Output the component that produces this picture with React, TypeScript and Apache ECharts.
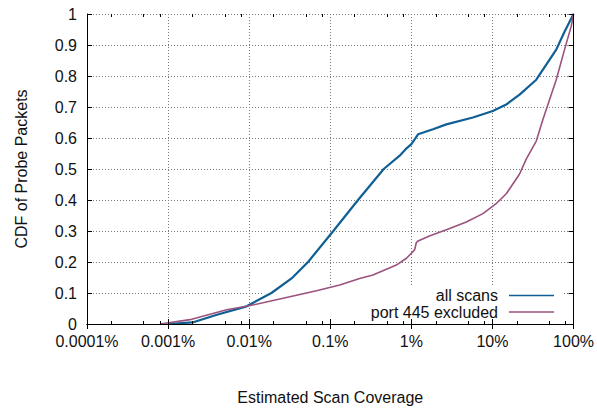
import React, { useEffect, useRef } from "react";
import * as echarts from "echarts";

// Estimated scan coverage (%) and CDF values
const allScansX = [0.001, 0.002, 0.004, 0.0093, 0.0188, 0.0333, 0.0532, 0.109, 0.22, 0.456, 0.718, 0.85, 1.0, 1.21, 1.85, 2.7, 5.74, 10.1, 14.8, 21.6, 34.7, 61.2, 77.4, 100];
const allScansY = [0, 0.005, 0.03, 0.057, 0.1, 0.147, 0.2, 0.3, 0.4, 0.5, 0.543, 0.564, 0.58, 0.612, 0.628, 0.644, 0.666, 0.687, 0.708, 0.74, 0.788, 0.885, 0.943, 1.0];

const excl445X = [0.0008, 0.00186, 0.00526, 0.0093, 0.0262, 0.0676, 0.131, 0.23, 0.336, 0.653, 0.869, 1.0, 1.1, 1.15, 1.21, 1.67, 2.97, 4.76, 7.63, 11.1, 14.8, 21.6, 26.1, 34.7, 41.9, 46.1, 61.2, 77.4, 93.6, 100];
const excl445Y = [0, 0.014, 0.046, 0.057, 0.083, 0.107, 0.126, 0.147, 0.158, 0.19, 0.212, 0.228, 0.24, 0.262, 0.268, 0.284, 0.308, 0.329, 0.356, 0.388, 0.42, 0.484, 0.532, 0.59, 0.66, 0.692, 0.788, 0.885, 0.96, 1.0];

const seriesNames = ["all scans", "port 445 excluded"];
const seriesColors = ["#0f5f95", "#9b527d"];

const xMin = 0.0001;
const xMax = 100;
const minorTickValues = [
  0.0002, 0.0005, 0.0008,
  0.002, 0.005, 0.008,
  0.02, 0.05, 0.08,
  0.2, 0.5, 0.8,
  2, 5, 8,
  20, 50, 80,
];

const xTitle = "Estimated Scan Coverage";
const yTitle = "CDF of Probe Packets";

const FONT = "'Liberation Sans', Arial, Helvetica, sans-serif";

function fmtPct(v: number) {
  return String(Number(v.toPrecision(6))) + "%";
}

export default function App() {
  const ref = useRef<HTMLDivElement>(null);

  useEffect(() => {
    document.body.style.margin = "0";
    const chart = echarts.init(ref.current!, null, { renderer: "svg" });

    const gridLineStyle = { color: "#7a7a7a", type: [1, 2] as any, width: 1 };
    const baseX = { type: "log" as const, logBase: 10, min: xMin, max: xMax, gridIndex: 0 };

    const toPairs = (xs: number[], ys: number[]) => xs.map((x, i) => [x, ys[i]]);

    chart.setOption({
      animation: false,
      backgroundColor: "#ffffff",
      textStyle: { fontFamily: FONT },
      grid: { left: 87, right: 23, top: 14, bottom: 84 },
      xAxis: [
        {
          ...baseX,
          position: "bottom",
          z: 3,
          name: xTitle,
          nameLocation: "middle",
          nameGap: 65,
          nameTextStyle: { color: "#111", fontSize: 16, fontFamily: FONT },
          axisLine: { show: true, lineStyle: { color: "#000", width: 1 } },
          axisTick: { show: true, inside: true, length: 5, lineStyle: { color: "#000" } },
          axisLabel: { show: true, color: "#111", fontSize: 16, fontFamily: FONT, margin: 9, formatter: fmtPct },
          splitLine: { show: false },
        },
        {
          ...baseX,
          position: "top",
          z: 3,
          axisLine: { show: true, lineStyle: { color: "#000", width: 1 } },
          axisTick: { show: true, inside: true, length: 5, lineStyle: { color: "#000" } },
          axisLabel: { show: false },
          splitLine: { show: false },
        },
        {
          ...baseX,
          position: "bottom",
          z: 0,
          axisLine: { show: false },
          axisTick: { show: false },
          axisLabel: { show: false },
          splitLine: { show: true, lineStyle: gridLineStyle },
        },
        {
          ...baseX,
          position: "bottom",
          z: 3,
          axisLine: { show: false },
          axisTick: { show: true, inside: true, length: 3, customValues: minorTickValues, lineStyle: { color: "#000" } },
          axisLabel: { show: false },
          splitLine: { show: false },
        },
        {
          ...baseX,
          position: "top",
          z: 3,
          axisLine: { show: false },
          axisTick: { show: true, inside: true, length: 3, customValues: minorTickValues, lineStyle: { color: "#000" } },
          axisLabel: { show: false },
          splitLine: { show: false },
        },
      ],
      yAxis: [
        {
          type: "value",
          min: 0,
          max: 1,
          interval: 0.1,
          position: "left",
          z: 3,
          name: yTitle,
          nameLocation: "middle",
          nameGap: 58,
          nameTextStyle: { color: "#111", fontSize: 16, fontFamily: FONT },
          axisLine: { show: true, lineStyle: { color: "#000", width: 1 } },
          axisTick: { show: true, inside: true, length: 5, lineStyle: { color: "#000" } },
          axisLabel: {
            show: true,
            color: "#111",
            fontSize: 16,
            fontFamily: FONT,
            margin: 10,
            formatter: (v: number) => String(Math.round(v * 10) / 10),
          },
          splitLine: { show: false },
        },
        {
          type: "value",
          min: 0,
          max: 1,
          interval: 0.1,
          position: "right",
          z: 3,
          axisLine: { show: true, lineStyle: { color: "#000", width: 1 } },
          axisTick: { show: true, inside: true, length: 5, lineStyle: { color: "#000" } },
          axisLabel: { show: false },
          splitLine: { show: false },
        },
        {
          type: "value",
          min: 0,
          max: 1,
          interval: 0.1,
          position: "left",
          z: 0,
          axisLine: { show: false },
          axisTick: { show: false },
          axisLabel: { show: false },
          splitLine: { show: true, lineStyle: gridLineStyle },
        },
      ],
      series: [
        {
          name: seriesNames[0],
          type: "line",
          xAxisIndex: 0,
          yAxisIndex: 0,
          data: toPairs(allScansX, allScansY),
          showSymbol: false,
          symbol: "none",
          lineStyle: { color: seriesColors[0], width: 2.2 },
          itemStyle: { color: seriesColors[0] },
          z: 2,
        },
        {
          name: seriesNames[1],
          type: "line",
          xAxisIndex: 0,
          yAxisIndex: 0,
          data: toPairs(excl445X, excl445Y),
          showSymbol: false,
          symbol: "none",
          lineStyle: { color: seriesColors[1], width: 1.6 },
          itemStyle: { color: seriesColors[1] },
          z: 2,
        },
      ],
      graphic: [
        {
          type: "rect",
          z: 1,
          shape: { x: 263, y: 286, width: 299, height: 39 },
          style: { fill: "#ffffff" },
          silent: true,
        },
        {
          type: "text",
          z: 5,
          x: 498,
          y: 295.5,
          style: { text: seriesNames[0], fill: "#111", font: "16px " + FONT, textAlign: "right", textVerticalAlign: "middle" },
        },
        {
          type: "text",
          z: 5,
          x: 498,
          y: 312.5,
          style: { text: seriesNames[1], fill: "#111", font: "16px " + FONT, textAlign: "right", textVerticalAlign: "middle" },
        },
        {
          type: "line",
          z: 5,
          shape: { x1: 509, y1: 295.5, x2: 554, y2: 295.5 },
          style: { stroke: seriesColors[0], lineWidth: 1.5 },
        },
        {
          type: "line",
          z: 5,
          shape: { x1: 509, y1: 312, x2: 554, y2: 312 },
          style: { stroke: seriesColors[1], lineWidth: 1.5 },
        },
      ],
    });

    return () => chart.dispose();
  }, []);

  return (
    <div
      ref={ref}
      style={{ position: "fixed", left: 0, top: 0, width: 597, height: 410, background: "#fff" }}
    />
  );
}
